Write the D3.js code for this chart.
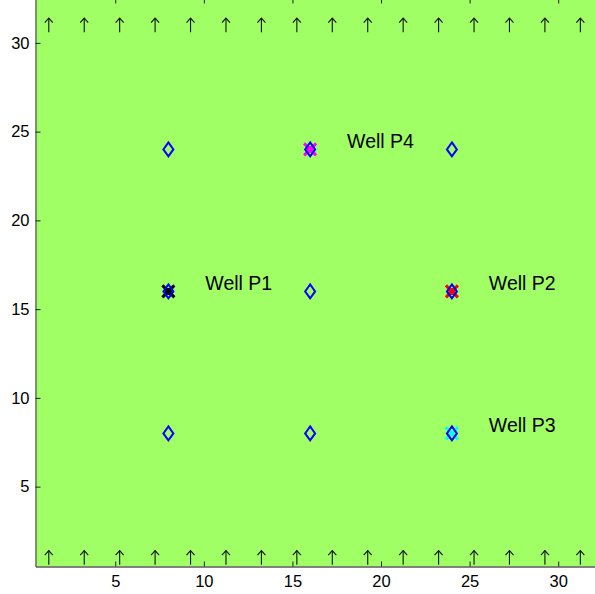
<!DOCTYPE html>
<html>
<head>
<meta charset="utf-8">
<script src="https://cdn.jsdelivr.net/npm/d3@7"></script>
<style>
  html, body { margin: 0; padding: 0; background: #fff; overflow: hidden; }
  svg { display: block; }
  text { font-family: "Liberation Sans", Arial, Helvetica, sans-serif; }
</style>
</head>
<body>
<svg id="chart" width="595" height="594"></svg>
<script>
// Grid extent (cell centres 1..32)
const xDomain = [0.5, 32.5];
const yDomain = [0.5, 32.5];
const xTicks = [5, 10, 15, 20, 25, 30];
const yTicks = [5, 10, 15, 20, 25, 30];

// Injector locations (diamonds)
const injX = [8, 16, 24, 8, 16, 24, 8, 16, 24];
const injY = [8, 8, 8, 16, 16, 16, 24, 24, 24];

// Producer wells
const wellNames = ["Well P1", "Well P2", "Well P3", "Well P4"];
const wellX = [8, 24, 24, 16];
const wellY = [16, 16, 8, 24];
const wellColors = ["#000000", "#ff0000", "#00ffff", "#ff00ff"];
const wellDot = [true, true, false, true];

// Boundary inflow arrows (pointing +y) along the bottom and top rows
const arrowX = [1.25, 3.25, 5.25, 7.25, 9.25, 11.25, 13.25, 15.25,
                17.25, 19.25, 21.25, 23.25, 25.25, 27.25, 29.25, 31.25];
const arrowRowsY = [1, 31];
const arrowLen = 0.8;

const svg = d3.select("#chart");
const x = d3.scaleLinear().domain(xDomain).range([35.5, 602.5]);
const y = d3.scaleLinear().domain(yDomain).range([566.5, -1.5]);

// plot background
svg.append("rect")
  .attr("x", x(xDomain[0])).attr("y", y(yDomain[1]))
  .attr("width", x(xDomain[1]) - x(xDomain[0]))
  .attr("height", y(yDomain[0]) - y(yDomain[1]))
  .attr("fill", "#a0ff64");

// arrows
const arrows = [];
arrowRowsY.forEach(ry => arrowX.forEach(ax => arrows.push({x: ax, y: ry})));
const ag = svg.append("g").attr("stroke", "#111").attr("stroke-width", 1.1).attr("fill", "none");
arrows.forEach(a => {
  const x0 = x(a.x), yb = y(a.y - arrowLen / 2), yt = y(a.y + arrowLen / 2);
  ag.append("line").attr("x1", x0).attr("x2", x0).attr("y1", yb).attr("y2", yt);
  ag.append("path").attr("d", `M${x0 - 4},${yt + 4.5}L${x0},${yt}L${x0 + 4},${yt + 4.5}`);
});

// axes
const tickLen = 5;
const axB = svg.append("g").attr("transform", `translate(0,${y(yDomain[0])})`)
  .call(d3.axisBottom(x).tickValues(xTicks).tickSizeInner(-tickLen).tickSizeOuter(0).tickPadding(9));
const axT = svg.append("g").attr("transform", `translate(0,${y(yDomain[1])})`)
  .call(d3.axisTop(x).tickValues(xTicks).tickSizeInner(-tickLen).tickSizeOuter(0).tickFormat(""));
const axL = svg.append("g").attr("transform", `translate(${x(xDomain[0])},0)`)
  .call(d3.axisLeft(y).tickValues(yTicks).tickSizeInner(-tickLen).tickSizeOuter(0).tickPadding(6));
[axB, axT, axL].forEach(g => {
  g.select(".domain").attr("stroke", "#5a5a5a").attr("stroke-width", 1.3);
  g.selectAll(".tick line").attr("stroke", "#222");
  g.selectAll(".tick text").attr("fill", "#000").style("font-size", "16.5px")
    .style("font-family", "'Liberation Sans', Arial, sans-serif");
});

// well cross markers
const s = 6;
wellNames.forEach((n, i) => {
  const cx = x(wellX[i]), cy = y(wellY[i]);
  svg.append("path")
    .attr("d", `M${cx - s},${cy - s}L${cx + s},${cy + s}M${cx - s},${cy + s}L${cx + s},${cy - s}`)
    .attr("stroke", wellColors[i]).attr("stroke-width", 3).attr("fill", "none");
  if (wellDot[i]) {
    svg.append("circle").attr("cx", cx).attr("cy", cy).attr("r", 3.5).attr("fill", wellColors[i]);
  }
});

// injector diamonds
const dw = 5, dh = 7;
injX.forEach((ix, i) => {
  const cx = x(ix), cy = y(injY[i]);
  svg.append("path")
    .attr("d", `M${cx},${cy - dh}L${cx + dw},${cy}L${cx},${cy + dh}L${cx - dw},${cy}Z`)
    .attr("stroke", "#0000ff").attr("stroke-width", 2).attr("fill", "none");
});

// well labels
wellNames.forEach((n, i) => {
  svg.append("text")
    .attr("x", x(wellX[i] + 2) + 1.5).attr("y", y(wellY[i] + 0.5) + 7.5)
    .attr("fill", "#000").style("font-size", "19.5px")
    .text(n);
});
</script>
</body>
</html>
